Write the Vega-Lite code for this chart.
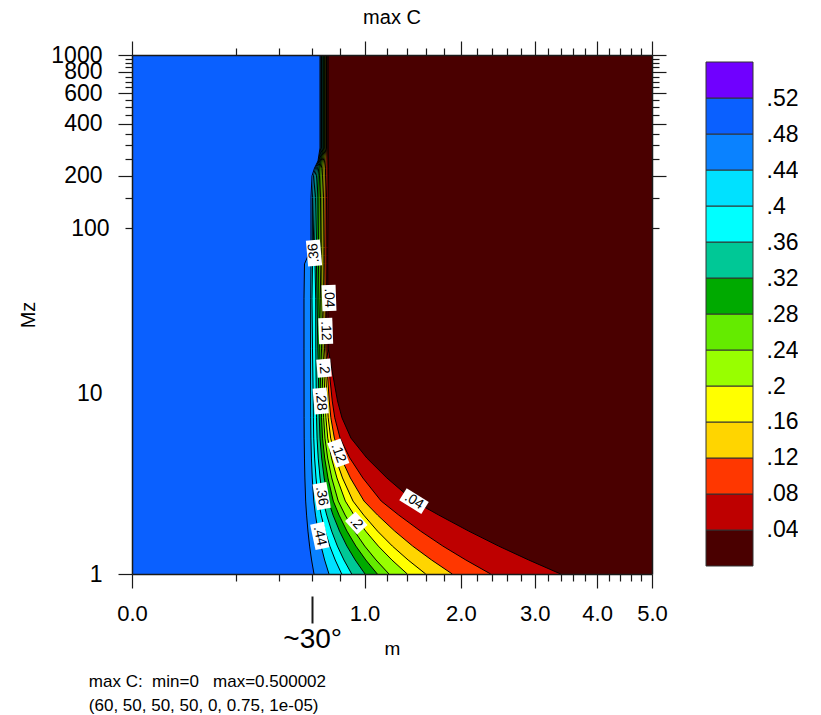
{
  "$schema": "https://vega.github.io/schema/vega-lite/v6.json",
  "background": "white",
  "padding": {"left": 18, "top": 8, "right": 0, "bottom": 0},
  "title": {
    "text": ["max C:\u00a0\u00a0min=0\u00a0\u00a0\u00a0max=0.500002", "(60, 50, 50, 50, 0, 0.75, 1e-05)"],
    "orient": "bottom", "anchor": "start", "dx": 70, "offset": 16,
    "fontSize": 17, "fontWeight": "normal", "lineHeight": 24
  },
  "datasets": {
    "contours": [
      {"L":0,"Mz":1000,"m":5},{"L":0,"Mz":1,"m":5},
      {"L":0.04,"Mz":1000,"m":0.7118},{"L":0.04,"Mz":290,"m":0.7118},{"L":0.04,"Mz":244,"m":0.7125},{"L":0.04,"Mz":222,"m":0.7125},{"L":0.04,"Mz":200,"m":0.7125},{"L":0.04,"Mz":150,"m":0.7104},{"L":0.04,"Mz":77,"m":0.7082},{"L":0.04,"Mz":69,"m":0.7082},{"L":0.04,"Mz":62,"m":0.7082},{"L":0.04,"Mz":39,"m":0.7089},{"L":0.04,"Mz":20,"m":0.7118},{"L":0.04,"Mz":10,"m":0.7811},{"L":0.04,"Mz":8,"m":0.8152},{"L":0.04,"Mz":6.1,"m":0.8866},{"L":0.04,"Mz":4.68,"m":1.02},{"L":0.04,"Mz":3.59,"m":1.2012},{"L":0.04,"Mz":2.64,"m":1.4683},{"L":0.04,"Mz":2.19,"m":1.7408},{"L":0.04,"Mz":1.77,"m":2.0964},{"L":0.04,"Mz":1.45,"m":2.4857},{"L":0.04,"Mz":1.205,"m":2.9098},{"L":0.04,"Mz":1,"m":3.3984},
      {"L":0.08,"Mz":1000,"m":0.7053},{"L":0.08,"Mz":290,"m":0.7053},{"L":0.08,"Mz":244,"m":0.7038},{"L":0.08,"Mz":222,"m":0.7031},{"L":0.08,"Mz":200,"m":0.7031},{"L":0.08,"Mz":150,"m":0.6995},{"L":0.08,"Mz":77,"m":0.6974},{"L":0.08,"Mz":69,"m":0.6974},{"L":0.08,"Mz":62,"m":0.6974},{"L":0.08,"Mz":39,"m":0.6995},{"L":0.08,"Mz":20,"m":0.7031},{"L":0.08,"Mz":10,"m":0.7415},{"L":0.08,"Mz":8,"m":0.7603},{"L":0.08,"Mz":6.1,"m":0.8005},{"L":0.08,"Mz":4.68,"m":0.8776},{"L":0.08,"Mz":3.59,"m":0.9854},{"L":0.08,"Mz":2.64,"m":1.1482},{"L":0.08,"Mz":2.19,"m":1.3165},{"L":0.08,"Mz":1.77,"m":1.5397},{"L":0.08,"Mz":1.45,"m":1.7871},{"L":0.08,"Mz":1.205,"m":2.061},{"L":0.08,"Mz":1,"m":2.3792},
      {"L":0.12,"Mz":1000,"m":0.6995},{"L":0.12,"Mz":290,"m":0.6995},{"L":0.12,"Mz":244,"m":0.6945},{"L":0.12,"Mz":222,"m":0.6924},{"L":0.12,"Mz":200,"m":0.6924},{"L":0.12,"Mz":150,"m":0.6888},{"L":0.12,"Mz":77,"m":0.6866},{"L":0.12,"Mz":69,"m":0.6866},{"L":0.12,"Mz":62,"m":0.6866},{"L":0.12,"Mz":39,"m":0.6888},{"L":0.12,"Mz":20,"m":0.6945},{"L":0.12,"Mz":10,"m":0.7195},{"L":0.12,"Mz":8,"m":0.7313},{"L":0.12,"Mz":6.1,"m":0.7574},{"L":0.12,"Mz":4.68,"m":0.8087},{"L":0.12,"Mz":3.59,"m":0.882},{"L":0.12,"Mz":2.64,"m":0.9955},{"L":0.12,"Mz":2.19,"m":1.1152},{"L":0.12,"Mz":1.77,"m":1.2762},{"L":0.12,"Mz":1.45,"m":1.4568},{"L":0.12,"Mz":1.205,"m":1.6594},{"L":0.12,"Mz":1,"m":1.897},
      {"L":0.16,"Mz":1000,"m":0.6945},{"L":0.16,"Mz":290,"m":0.6945},{"L":0.16,"Mz":244,"m":0.6852},{"L":0.16,"Mz":222,"m":0.6817},{"L":0.16,"Mz":200,"m":0.6817},{"L":0.16,"Mz":150,"m":0.6781},{"L":0.16,"Mz":77,"m":0.676},{"L":0.16,"Mz":69,"m":0.676},{"L":0.16,"Mz":62,"m":0.676},{"L":0.16,"Mz":39,"m":0.6781},{"L":0.16,"Mz":20,"m":0.6852},{"L":0.16,"Mz":10,"m":0.7037},{"L":0.16,"Mz":8,"m":0.7118},{"L":0.16,"Mz":6.1,"m":0.7298},{"L":0.16,"Mz":4.68,"m":0.7663},{"L":0.16,"Mz":3.59,"m":0.8195},{"L":0.16,"Mz":2.64,"m":0.9031},{"L":0.16,"Mz":2.19,"m":0.9926},{"L":0.16,"Mz":1.77,"m":1.1146},{"L":0.16,"Mz":1.45,"m":1.2535},{"L":0.16,"Mz":1.205,"m":1.4098},{"L":0.16,"Mz":1,"m":1.595},
      {"L":0.2,"Mz":1000,"m":0.6895},{"L":0.2,"Mz":290,"m":0.6895},{"L":0.2,"Mz":244,"m":0.6767},{"L":0.2,"Mz":222,"m":0.6725},{"L":0.2,"Mz":200,"m":0.6711},{"L":0.2,"Mz":150,"m":0.6675},{"L":0.2,"Mz":77,"m":0.6654},{"L":0.2,"Mz":69,"m":0.6654},{"L":0.2,"Mz":62,"m":0.6654},{"L":0.2,"Mz":39,"m":0.6675},{"L":0.2,"Mz":20,"m":0.6746},{"L":0.2,"Mz":10,"m":0.6895},{"L":0.2,"Mz":8,"m":0.6953},{"L":0.2,"Mz":6.1,"m":0.7086},{"L":0.2,"Mz":4.68,"m":0.7358},{"L":0.2,"Mz":3.59,"m":0.7765},{"L":0.2,"Mz":2.64,"m":0.8416},{"L":0.2,"Mz":2.19,"m":0.9123},{"L":0.2,"Mz":1.77,"m":1.0095},{"L":0.2,"Mz":1.45,"m":1.1216},{"L":0.2,"Mz":1.205,"m":1.2492},{"L":0.2,"Mz":1,"m":1.4014},
      {"L":0.24,"Mz":1000,"m":0.6845},{"L":0.24,"Mz":290,"m":0.6845},{"L":0.24,"Mz":244,"m":0.6689},{"L":0.24,"Mz":222,"m":0.6626},{"L":0.24,"Mz":200,"m":0.6605},{"L":0.24,"Mz":150,"m":0.657},{"L":0.24,"Mz":77,"m":0.655},{"L":0.24,"Mz":69,"m":0.655},{"L":0.24,"Mz":62,"m":0.655},{"L":0.24,"Mz":39,"m":0.6584},{"L":0.24,"Mz":20,"m":0.664},{"L":0.24,"Mz":10,"m":0.6751},{"L":0.24,"Mz":8,"m":0.6791},{"L":0.24,"Mz":6.1,"m":0.6884},{"L":0.24,"Mz":4.68,"m":0.708},{"L":0.24,"Mz":3.59,"m":0.7377},{"L":0.24,"Mz":2.64,"m":0.7864},{"L":0.24,"Mz":2.19,"m":0.84},{"L":0.24,"Mz":1.77,"m":0.9147},{"L":0.24,"Mz":1.45,"m":1.0013},{"L":0.24,"Mz":1.205,"m":1.1013},{"L":0.24,"Mz":1,"m":1.2213},
      {"L":0.28,"Mz":1000,"m":0.6795},{"L":0.28,"Mz":290,"m":0.6795},{"L":0.28,"Mz":244,"m":0.6619},{"L":0.28,"Mz":222,"m":0.6536},{"L":0.28,"Mz":200,"m":0.6501},{"L":0.28,"Mz":150,"m":0.6466},{"L":0.28,"Mz":77,"m":0.6432},{"L":0.28,"Mz":69,"m":0.6432},{"L":0.28,"Mz":62,"m":0.6432},{"L":0.28,"Mz":39,"m":0.6466},{"L":0.28,"Mz":20,"m":0.6522},{"L":0.28,"Mz":10,"m":0.6614},{"L":0.28,"Mz":8,"m":0.6644},{"L":0.28,"Mz":6.1,"m":0.6714},{"L":0.28,"Mz":4.68,"m":0.6865},{"L":0.28,"Mz":3.59,"m":0.71},{"L":0.28,"Mz":2.64,"m":0.7491},{"L":0.28,"Mz":2.19,"m":0.7928},{"L":0.28,"Mz":1.77,"m":0.8543},{"L":0.28,"Mz":1.45,"m":0.9268},{"L":0.28,"Mz":1.205,"m":1.0108},{"L":0.28,"Mz":1,"m":1.1127},
      {"L":0.32,"Mz":1000,"m":0.6746},{"L":0.32,"Mz":290,"m":0.6746},{"L":0.32,"Mz":244,"m":0.6556},{"L":0.32,"Mz":222,"m":0.6446},{"L":0.32,"Mz":200,"m":0.6397},{"L":0.32,"Mz":150,"m":0.6342},{"L":0.32,"Mz":77,"m":0.6294},{"L":0.32,"Mz":69,"m":0.6294},{"L":0.32,"Mz":62,"m":0.6294},{"L":0.32,"Mz":39,"m":0.6329},{"L":0.32,"Mz":20,"m":0.6384},{"L":0.32,"Mz":10,"m":0.6463},{"L":0.32,"Mz":8,"m":0.6484},{"L":0.32,"Mz":6.1,"m":0.6536},{"L":0.32,"Mz":4.68,"m":0.6651},{"L":0.32,"Mz":3.59,"m":0.6831},{"L":0.32,"Mz":2.64,"m":0.7134},{"L":0.32,"Mz":2.19,"m":0.7475},{"L":0.32,"Mz":1.77,"m":0.7963},{"L":0.32,"Mz":1.45,"m":0.854},{"L":0.32,"Mz":1.205,"m":0.9216},{"L":0.32,"Mz":1,"m":1.0039},
      {"L":0.36,"Mz":1000,"m":0.6689},{"L":0.36,"Mz":290,"m":0.6689},{"L":0.36,"Mz":244,"m":0.6508},{"L":0.36,"Mz":222,"m":0.6363},{"L":0.36,"Mz":200,"m":0.6294},{"L":0.36,"Mz":150,"m":0.6226},{"L":0.36,"Mz":77,"m":0.6159},{"L":0.36,"Mz":69,"m":0.6159},{"L":0.36,"Mz":62,"m":0.6193},{"L":0.36,"Mz":39,"m":0.624},{"L":0.36,"Mz":20,"m":0.6247},{"L":0.36,"Mz":10,"m":0.6281},{"L":0.36,"Mz":8,"m":0.6296},{"L":0.36,"Mz":6.1,"m":0.6332},{"L":0.36,"Mz":4.68,"m":0.6412},{"L":0.36,"Mz":3.59,"m":0.654},{"L":0.36,"Mz":2.64,"m":0.676},{"L":0.36,"Mz":2.19,"m":0.701},{"L":0.36,"Mz":1.77,"m":0.737},{"L":0.36,"Mz":1.45,"m":0.78},{"L":0.36,"Mz":1.205,"m":0.8305},{"L":0.36,"Mz":1,"m":0.8925},
      {"L":0.4,"Mz":1000,"m":0.664},{"L":0.4,"Mz":290,"m":0.664},{"L":0.4,"Mz":244,"m":0.6466},{"L":0.4,"Mz":222,"m":0.6294},{"L":0.4,"Mz":200,"m":0.6193},{"L":0.4,"Mz":150,"m":0.6125},{"L":0.4,"Mz":77,"m":0.6078},{"L":0.4,"Mz":69,"m":0.6058},{"L":0.4,"Mz":62,"m":0.6024},{"L":0.4,"Mz":39,"m":0.5991},{"L":0.4,"Mz":20,"m":0.6024},{"L":0.4,"Mz":10,"m":0.6072},{"L":0.4,"Mz":8,"m":0.6082},{"L":0.4,"Mz":6.1,"m":0.6108},{"L":0.4,"Mz":4.68,"m":0.6166},{"L":0.4,"Mz":3.59,"m":0.6261},{"L":0.4,"Mz":2.64,"m":0.6427},{"L":0.4,"Mz":2.19,"m":0.6619},{"L":0.4,"Mz":1.77,"m":0.6898},{"L":0.4,"Mz":1.45,"m":0.7235},{"L":0.4,"Mz":1.205,"m":0.7636},{"L":0.4,"Mz":1,"m":0.8131},
      {"L":0.44,"Mz":1000,"m":0.6591},{"L":0.44,"Mz":290,"m":0.6591},{"L":0.44,"Mz":244,"m":0.6432},{"L":0.44,"Mz":222,"m":0.6226},{"L":0.44,"Mz":200,"m":0.6091},{"L":0.44,"Mz":150,"m":0.6024},{"L":0.44,"Mz":77,"m":0.6011},{"L":0.44,"Mz":69,"m":0.5958},{"L":0.44,"Mz":62,"m":0.5925},{"L":0.44,"Mz":39,"m":0.5905},{"L":0.44,"Mz":20,"m":0.5892},{"L":0.44,"Mz":10,"m":0.5899},{"L":0.44,"Mz":8,"m":0.5905},{"L":0.44,"Mz":6.1,"m":0.5919},{"L":0.44,"Mz":4.68,"m":0.5953},{"L":0.44,"Mz":3.59,"m":0.6009},{"L":0.44,"Mz":2.64,"m":0.6109},{"L":0.44,"Mz":2.19,"m":0.6226},{"L":0.44,"Mz":1.77,"m":0.6399},{"L":0.44,"Mz":1.45,"m":0.661},{"L":0.44,"Mz":1.205,"m":0.6861},{"L":0.44,"Mz":1,"m":0.7176},
      {"L":0.48,"Mz":1000,"m":0.6536},{"L":0.48,"Mz":290,"m":0.6536},{"L":0.48,"Mz":244,"m":0.6397},{"L":0.48,"Mz":222,"m":0.6159},{"L":0.48,"Mz":200,"m":0.5991},{"L":0.48,"Mz":150,"m":0.5925},{"L":0.48,"Mz":77,"m":0.5925},{"L":0.48,"Mz":69,"m":0.5728},{"L":0.48,"Mz":62,"m":0.5502},{"L":0.48,"Mz":39,"m":0.547},{"L":0.48,"Mz":20,"m":0.547},{"L":0.48,"Mz":10,"m":0.5474},{"L":0.48,"Mz":8,"m":0.5476},{"L":0.48,"Mz":6.1,"m":0.5483},{"L":0.48,"Mz":4.68,"m":0.55},{"L":0.48,"Mz":3.59,"m":0.5527},{"L":0.48,"Mz":2.64,"m":0.5577},{"L":0.48,"Mz":2.19,"m":0.5636},{"L":0.48,"Mz":1.77,"m":0.5724},{"L":0.48,"Mz":1.45,"m":0.5832},{"L":0.48,"Mz":1.205,"m":0.5962},{"L":0.48,"Mz":1,"m":0.6125}
    ],
    "labels": [
      {"t":".36","Mz":71.7,"m":0.6125,"rot":-95},
      {"t":".04","Mz":39.4,"m":0.7176,"rot":88},
      {"t":".12","Mz":25.4,"m":0.6938,"rot":88},
      {"t":".2","Mz":15.5,"m":0.6817,"rot":85},
      {"t":".28","Mz":10,"m":0.6584,"rot":85},
      {"t":".12","Mz":5.0,"m":0.787,"rot":70},
      {"t":".36","Mz":2.82,"m":0.6654,"rot":80},
      {"t":".44","Mz":1.66,"m":0.6515,"rot":78},
      {"t":".2","Mz":1.97,"m":0.9303,"rot":48},
      {"t":".04","Mz":2.64,"m":1.4705,"rot":32}
    ],
    "bands": [
      {"L":0,"hi":0.04},{"L":0.04,"hi":0.08},{"L":0.08,"hi":0.12},{"L":0.12,"hi":0.16},
      {"L":0.16,"hi":0.2},{"L":0.2,"hi":0.24},{"L":0.24,"hi":0.28},{"L":0.28,"hi":0.32},
      {"L":0.32,"hi":0.36},{"L":0.36,"hi":0.4},{"L":0.4,"hi":0.44},{"L":0.44,"hi":0.48},
      {"L":0.48,"hi":0.52},{"L":0.52,"hi":0.56}
    ]
  },
  "bounds": "flush",
  "spacing": 54,
  "hconcat": [
    {
      "width": 520,
      "height": 519,
      "title": {"text": "max C", "fontSize": 20, "fontWeight": "normal", "anchor": "middle", "frame": "group", "offset": 12},
      "resolve": {"axis": {"x": "independent", "y": "independent"}},
      "layer": [
        {
          "data": {"name": "contours"},
          "mark": {"type": "area", "orient": "horizontal"},
          "encoding": {
            "y": {"field": "Mz", "type": "quantitative",
              "scale": {"type": "log", "domain": [1, 1000], "nice": false},
              "axis": {
                "orient": "left", "title": "Mz", "titleFontSize": 20, "titlePadding": 12,
                "values": [1,10,100,150,200,250,300,350,400,450,500,550,600,650,700,750,800,850,900,950,1000],
                "format": "d",
                "labelExpr": "indexof([1,10,100,200,400,600,800,1000], datum.value) >= 0 ? datum.label : ''",
                "labelFontSize": 23, "labelPadding": 16,
                "labelOffset": {"condition": {"test": "datum.value === 10", "value": -8}, "value": 0},
                "tickSize": {"condition": {"test": "datum.value <= 10 || datum.value % 200 === 0", "value": 14}, "value": 7},
                "tickOpacity": {"condition": {"test": "datum.value === 10", "value": 0}, "value": 1},
                "zindex": 1
              }},
            "x": {"field": "m", "type": "quantitative",
              "scale": {"type": "sqrt", "domain": [0, 5], "nice": false},
              "axis": {
                "orient": "bottom", "title": "m", "titleFontSize": 19, "titleBaseline": "alphabetic", "titleY": 80,
                "values": [0,0.2,0.4,0.6,0.8,1,1.2,1.4,1.6,1.8,2,2.2,2.4,2.6,2.8,3,3.2,3.4,3.6,3.8,4,4.2,4.4,4.6,4.8,5],
                "labelExpr": "datum.value % 1 === 0 ? format(datum.value, '.1f') : ''",
                "labelFontSize": 22, "labelPadding": 15,
                "tickSize": {"condition": {"test": "datum.value % 1 === 0", "value": 14}, "value": 7},
                "zindex": 1
              }},
            "x2": {"datum": 0},
            "color": {"field": "L", "type": "ordinal", "legend": null,
              "scale": {"domain": [0,0.04,0.08,0.12,0.16,0.2,0.24,0.28,0.32,0.36,0.4,0.44,0.48,0.52],
                "range": ["#4A0000","#BE0000","#FF3700","#FFD500","#FFFF00","#98FF00","#64EB00","#00AA00","#00C896","#00FFFF","#00E1FF","#0A82FF","#0A60FF","#7000FF"]}}
          }
        },
        {
          "data": {"name": "contours"},
          "transform": [{"filter": "datum.L > 0"}],
          "mark": {"type": "line", "color": "#000", "strokeWidth": 1, "interpolate": "linear"},
          "encoding": {
            "y": {"field": "Mz", "type": "quantitative",
              "scale": {"type": "log", "domain": [1, 1000], "nice": false},
              "axis": {
                "orient": "right", "title": null, "labels": false,
                "values": [100,150,200,250,300,350,400,450,500,550,600,650,700,750,800,850,900,950,1000],
                "tickSize": {"condition": {"test": "datum.value % 200 === 0", "value": 14}, "value": 7},
                "zindex": 1
              }},
            "x": {"field": "m", "type": "quantitative",
              "scale": {"type": "sqrt", "domain": [0, 5], "nice": false},
              "axis": {
                "orient": "top", "title": null, "labels": false,
                "values": [0,0.2,0.4,0.6,0.8,1,1.2,1.4,1.6,1.8,2,2.2,2.4,2.6,2.8,3,3.2,3.4,3.6,3.8,4,4.2,4.4,4.6,4.8,5],
                "tickSize": {"condition": {"test": "datum.value % 1 === 0", "value": 14}, "value": 7},
                "zindex": 1
              }},
            "detail": {"field": "L"},
            "order": {"field": "Mz", "type": "quantitative"}
          }
        },
        {
          "data": {"name": "labels"},
          "transform": [{"filter": "length(datum.t) === 3"}],
          "mark": {"type": "point", "shape": "M-1,-0.54H1V0.54H-1Z", "filled": true, "fill": "white", "strokeWidth": 0, "opacity": 1, "size": 676},
          "encoding": {
            "x": {"field": "m", "type": "quantitative",
              "scale": {"type": "sqrt", "domain": [0, 5], "nice": false},
              "axis": {
                "orient": "bottom", "offset": 22, "domain": false, "title": null,
                "values": [0.6], "labelExpr": "'~30°'",
                "tickSize": 27, "tickWidth": 2, "labelPadding": 2, "labelFontSize": 28
              }},
            "y": {"field": "Mz", "type": "quantitative",
              "scale": {"type": "log", "domain": [1, 1000], "nice": false}, "axis": null},
            "angle": {"field": "rot", "type": "quantitative", "scale": null}
          }
        },
        {
          "data": {"name": "labels"},
          "transform": [{"filter": "length(datum.t) === 2"}],
          "mark": {"type": "point", "shape": "M-1,-0.78H1V0.78H-1Z", "filled": true, "fill": "white", "strokeWidth": 0, "opacity": 1, "size": 324},
          "encoding": {
            "x": {"field": "m", "type": "quantitative",
              "scale": {"type": "sqrt", "domain": [0, 5], "nice": false}, "axis": null},
            "y": {"field": "Mz", "type": "quantitative",
              "scale": {"type": "log", "domain": [1, 1000], "nice": false}, "axis": null},
            "angle": {"field": "rot", "type": "quantitative", "scale": null}
          }
        },
        {
          "data": {"name": "labels"},
          "mark": {"type": "text", "fontSize": 14, "color": "#000", "align": "center", "baseline": "middle"},
          "encoding": {
            "x": {"field": "m", "type": "quantitative",
              "scale": {"type": "sqrt", "domain": [0, 5], "nice": false}, "axis": null},
            "y": {"field": "Mz", "type": "quantitative",
              "scale": {"type": "log", "domain": [1, 1000], "nice": false}, "axis": null},
            "text": {"field": "t"},
            "angle": {"field": "rot", "type": "quantitative", "scale": null}
          }
        }
      ]
    },
    {
      "width": 47,
      "height": 519,
      "data": {"name": "bands"},
      "mark": {"type": "rect", "stroke": "#333", "strokeWidth": 1},
      "encoding": {
        "y": {"field": "L", "type": "quantitative",
          "scale": {"domain": [-0.00889, 0.56778], "nice": false, "zero": false},
          "axis": {
            "orient": "right", "title": null, "domain": false, "ticks": false,
            "values": [0.04,0.08,0.12,0.16,0.2,0.24,0.28,0.32,0.36,0.4,0.44,0.48,0.52],
            "labelExpr": "slice(format(datum.value, '.2~f'), 1)",
            "labelFontSize": 23, "labelPadding": 13
          }},
        "y2": {"field": "hi"},
        "color": {"field": "L", "type": "ordinal", "legend": null,
          "scale": {"domain": [0,0.04,0.08,0.12,0.16,0.2,0.24,0.28,0.32,0.36,0.4,0.44,0.48,0.52],
            "range": ["#4A0000","#BE0000","#FF3700","#FFD500","#FFFF00","#98FF00","#64EB00","#00AA00","#00C896","#00FFFF","#00E1FF","#0A82FF","#0A60FF","#7000FF"]}}
      }
    }
  ],
  "config": {
    "font": "Liberation Sans",
    "view": {"stroke": null},
    "title": {"font": "Liberation Sans", "fontWeight": "normal", "color": "#000"},
    "axis": {
      "grid": false,
      "labelFont": "Liberation Sans", "titleFont": "Liberation Sans",
      "labelColor": "#000", "titleColor": "#000", "titleFontWeight": "normal",
      "domainColor": "#1a1a1a", "tickColor": "#1a1a1a", "domainWidth": 1.5, "tickWidth": 1.2,
      "labelOverlap": false, "labelBound": false, "labelFlush": false
    }
  }
}
